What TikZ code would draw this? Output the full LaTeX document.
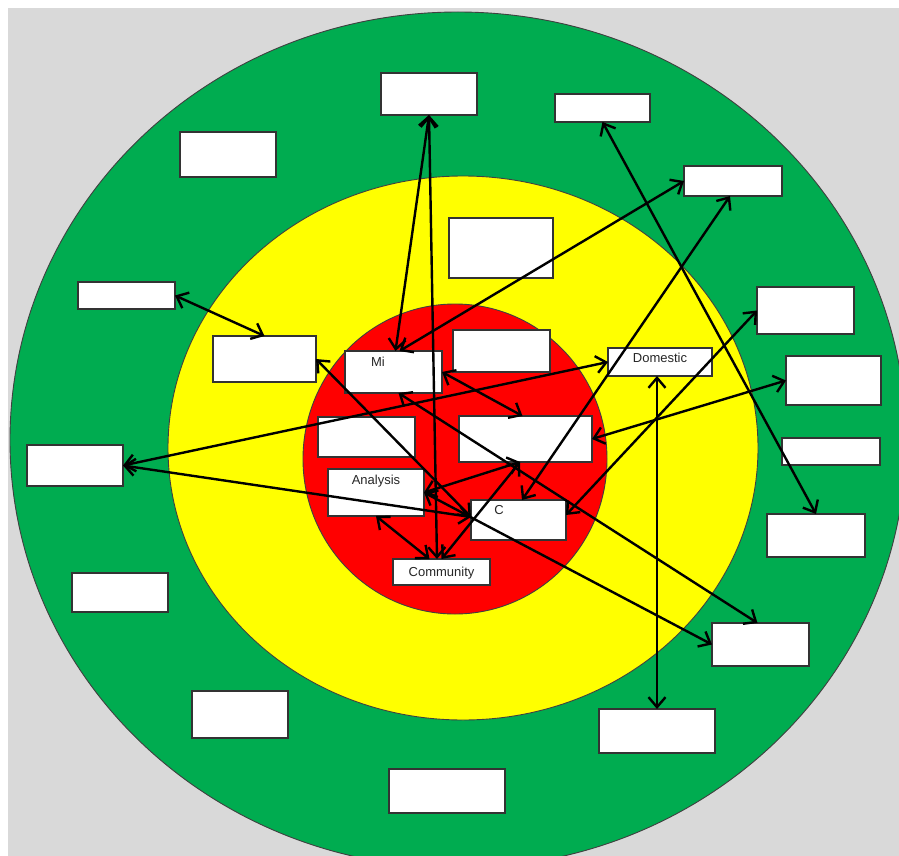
\documentclass[tikz,border=0pt]{standalone}
\usepackage{fontspec}
\setmainfont{Liberation Sans}
\usetikzlibrary{arrows.meta,calc}
\definecolor{bggray}{HTML}{D9D9D9}
\definecolor{ringgreen}{HTML}{00AC50}
\definecolor{ringyellow}{HTML}{FFFF00}
\definecolor{ringred}{HTML}{FF0000}
\definecolor{boxline}{HTML}{333333}
\tikzset{
  ring/.style={draw=black!75, line width=0.9pt},
  box/.style={draw=boxline, line width=1.6pt, fill=white, inner sep=0pt, outer sep=0pt},
  lbl/.style={font=\fontsize{13}{15}\selectfont, inner sep=0pt, text=black!85},
  conn/.style={line width=2.4pt, black,
    {Straight Barb[length=10pt,width=17pt]}-{Straight Barb[length=10pt,width=17pt]}},
}
\begin{document}
\begin{tikzpicture}[x=1pt,y=-1pt]
\useasboundingbox (0,0) rectangle (899,856);
\clip (0,0) rectangle (899,856);
\fill[white] (0,0) rectangle (899,856);
\fill[bggray] (8,8) rectangle (899,856);
% rings
\draw[ring, fill=ringgreen] (458,440) ellipse [x radius=448, y radius=428];
\draw[ring, fill=ringyellow] (463,448) ellipse [x radius=295, y radius=272];
\draw[ring, fill=ringred] (455,459) ellipse [x radius=152, y radius=155];
% boxes
\node[box, minimum width=96pt,  minimum height=42pt] (b1)  at (429,94) {};
\node[box, minimum width=95pt,  minimum height=28pt] (b2)  at (602.5,108) {};
\node[box, minimum width=96pt,  minimum height=45pt] (b3)  at (228,154.5) {};
\node[box, minimum width=98pt,  minimum height=30pt] (b4)  at (733,181) {};
\node[box, minimum width=104pt, minimum height=60pt] (b5)  at (501,248) {};
\node[box, minimum width=97pt,  minimum height=27pt] (b6)  at (126.5,295.5) {};
\node[box, minimum width=97pt,  minimum height=47pt] (b7)  at (805.5,310.5) {};
\node[box, minimum width=103pt, minimum height=46pt] (b8)  at (264.5,359) {};
\node[box, minimum width=97pt,  minimum height=42pt] (b9)  at (501.5,351) {};
\node[box, minimum width=97pt,  minimum height=42pt] (b10) at (393.5,372) {};
\node[box, minimum width=104pt, minimum height=28pt] (b11) at (660,362) {};
\node[box, minimum width=95pt,  minimum height=49pt] (b12) at (833.5,380.5) {};
\node[box, minimum width=97pt,  minimum height=40pt] (b13) at (366.5,437) {};
\node[box, minimum width=133pt, minimum height=46pt] (b14) at (525.5,439) {};
\node[box, minimum width=98pt,  minimum height=27pt] (b15) at (831,451.5) {};
\node[box, minimum width=96pt,  minimum height=41pt] (b16) at (75,465.5) {};
\node[box, minimum width=96pt,  minimum height=47pt] (b17) at (376,492.5) {};
\node[box, minimum width=95pt,  minimum height=40pt] (b18) at (518.5,520) {};
\node[box, minimum width=98pt,  minimum height=43pt] (b19) at (816,535.5) {};
\node[box, minimum width=97pt,  minimum height=26pt] (b20) at (441.5,572) {};
\node[box, minimum width=96pt,  minimum height=39pt] (b21) at (120,592.5) {};
\node[box, minimum width=97pt,  minimum height=43pt] (b22) at (760.5,644.5) {};
\node[box, minimum width=96pt,  minimum height=47pt] (b23) at (240,714.5) {};
\node[box, minimum width=116pt, minimum height=44pt] (b24) at (657,731) {};
\node[box, minimum width=116pt, minimum height=44pt] (b25) at (447,791) {};
% texts
\node[lbl] (t10) at (378,362) {Mi};
\node[lbl] (t11) at (660,358) {Domestic};
\node[lbl] (t17) at (376,481) {Analysis};
\node[lbl] (t18) at (499,510) {C};
\node[lbl] (t20) at (441.5,573) {Community};
% connectors
\draw[conn] (b1.south) -- ([xshift=2pt]b10.north);
\draw[conn] (b1.south) -- ([xshift=-4.5pt]b20.north);
\draw[conn] (b2.south) -- (b19.north);
\draw[conn] (b4.west) -- ([xshift=6pt]b10.north);
\draw[conn] ([xshift=-3pt]b4.south) -- ([xshift=3.5pt]b18.north);
\draw[conn] (b7.west) -- ([yshift=5pt]b18.east);
\draw[conn] (b12.west) -- (b14.east);
\draw[conn] ([xshift=-3pt]b11.south) -- (b24.north);
\draw[conn] (b16.east) -- (b11.west);
\draw[conn] (b16.east) -- ([yshift=3pt]b18.west);
\draw[conn] (b6.east) -- (b8.north);
\draw[conn] (b8.east) -- ([yshift=3pt]b18.west);
\draw[conn] ([xshift=5pt]b10.south) -- ([xshift=-3pt]b22.north);
\draw[conn] (b10.east) -- ([xshift=-3pt]b14.north);
\draw[conn] (b17.east) -- ([xshift=-5.5pt]b14.south);
\draw[conn] ([xshift=-5.5pt]b14.south) -- (b20.north);
\draw[conn] (b17.south) -- ([xshift=-12pt]b20.north);
\draw[conn] (b17.east) -- (b22.west);
\end{tikzpicture}
\end{document}
